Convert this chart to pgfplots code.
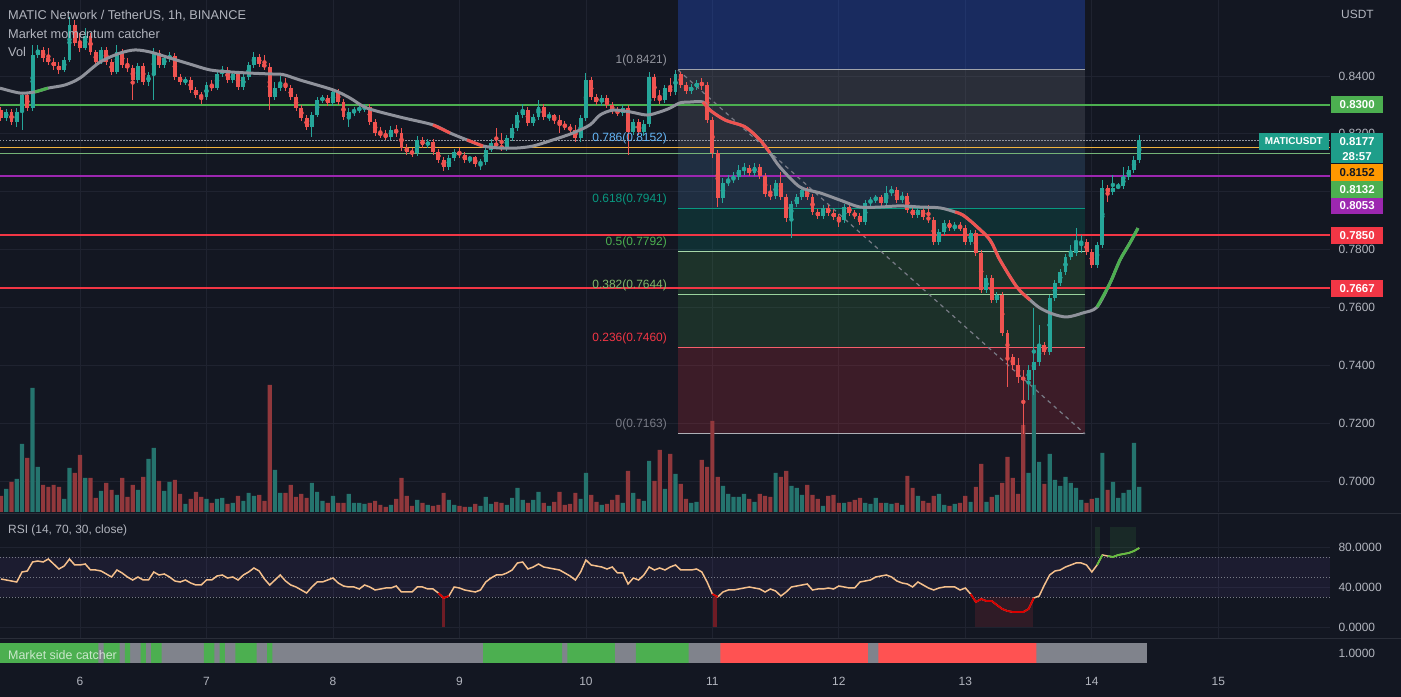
\documentclass[border=0pt]{standalone}
\usepackage{fontspec}
\setmainfont{Liberation Sans}
\usepackage{pgfplots}
\usepackage{pgfplotstable}
\pgfplotsset{compat=1.18}
\pgfkeys{/pgf/number format/assume math mode=true}
\newcommand\fs[1]{\fontsize{#1}{#1}\selectfont}

\definecolor{bg}{HTML}{131722}
\definecolor{gridc}{HTML}{1F2330}
\definecolor{sepc}{HTML}{2A2E39}
\definecolor{txt}{HTML}{B2B5BE}
\definecolor{upc}{HTML}{26A69A}
\definecolor{dnc}{HTML}{EF5350}
\definecolor{volup}{RGB}{37,116,110}
\definecolor{voldn}{RGB}{145,56,60}
\definecolor{ma}{HTML}{8F929B}
\definecolor{tvgreen}{HTML}{4CAF50}
\definecolor{tvred}{HTML}{F23645}
\definecolor{tvorange}{HTML}{FF9800}
\definecolor{lineyel}{HTML}{F2B33D}
\definecolor{tvpurple}{HTML}{9C27B0}
\definecolor{tvteal}{HTML}{089981}
\definecolor{boxteal}{HTML}{1E9E8A}
\definecolor{fibblue}{HTML}{2962FF}
\definecolor{fibgrey}{HTML}{787B86}
\definecolor{fibsky}{HTML}{64B5F6}
\definecolor{fiblg}{HTML}{81C784}
\definecolor{rsic}{RGB}{245,192,140}
\definecolor{rsiband}{HTML}{7E57C2}
\definecolor{catgrey}{RGB}{128,131,140}
\definecolor{catred}{HTML}{FF5252}

\pgfplotstableread{
h o hi lo c v r
9 0.8282 0.8293 0.8244 0.8255 16 48
10 0.8255 0.8286 0.8244 0.8276 23 47
11 0.8276 0.8286 0.8231 0.8241 30 46
12 0.8241 0.8289 0.8224 0.8276 33 45
13 0.8276 0.8345 0.8213 0.8334 68 55
14 0.8334 0.8345 0.8279 0.8289 54 56
15 0.8289 0.8507 0.8279 0.8473 124 65
16 0.8473 0.8507 0.8462 0.8490 45 66
17 0.8490 0.8500 0.8448 0.8462 27 65
18 0.8462 0.8497 0.8438 0.8448 25 68
19 0.8448 0.8462 0.8421 0.8435 27 63
20 0.8435 0.8448 0.8407 0.8421 25 58
21 0.8421 0.8466 0.8414 0.8455 13 61
22 0.8455 0.8604 0.8448 0.8576 44 68
23 0.8576 0.8594 0.8504 0.8514 39 62
24 0.8514 0.8549 0.8483 0.8497 57 62
25 0.8497 0.8566 0.8490 0.8538 34 63
26 0.8538 0.8549 0.8473 0.8483 34 57
27 0.8483 0.8490 0.8438 0.8448 14 57
28 0.8448 0.8500 0.8441 0.8490 21 56
29 0.8490 0.8500 0.8438 0.8448 29 53
30 0.8448 0.8459 0.8403 0.8414 22 50
31 0.8414 0.8507 0.8407 0.8483 17 57
32 0.8483 0.8493 0.8428 0.8438 34 54
33 0.8438 0.8462 0.8414 0.8428 15 50
34 0.8428 0.8438 0.8317 0.8386 27 47
35 0.8386 0.8445 0.8376 0.8435 22 50
36 0.8435 0.8445 0.8369 0.8379 35 47
37 0.8379 0.8414 0.8365 0.8403 53 47
38 0.8403 0.8497 0.8317 0.8479 64 55
39 0.8479 0.8490 0.8428 0.8438 31 52
40 0.8438 0.8473 0.8428 0.8462 21 53
41 0.8462 0.8483 0.8448 0.8469 30 50
42 0.8469 0.8479 0.8386 0.8397 32 46
43 0.8397 0.8407 0.8369 0.8379 18 45
44 0.8379 0.8397 0.8369 0.8386 8 47
45 0.8386 0.8397 0.8341 0.8352 13 44
46 0.8352 0.8362 0.8324 0.8334 20 42
47 0.8334 0.8345 0.8303 0.8327 15 42
48 0.8327 0.8379 0.8317 0.8369 13 47
49 0.8369 0.8386 0.8348 0.8359 9 47
50 0.8359 0.8417 0.8352 0.8407 13 51
51 0.8407 0.8435 0.8397 0.8421 14 52
52 0.8421 0.8431 0.8376 0.8386 8 49
53 0.8386 0.8417 0.8376 0.8407 9 50
54 0.8407 0.8417 0.8352 0.8362 16 47
55 0.8362 0.8407 0.8352 0.8397 11 52
56 0.8397 0.8448 0.8386 0.8438 19 55
57 0.8438 0.8483 0.8428 0.8466 16 59
58 0.8466 0.8476 0.8431 0.8441 17 56
59 0.8441 0.8473 0.8421 0.8431 11 48
60 0.8431 0.8445 0.8282 0.8327 127 42
61 0.8327 0.8379 0.8317 0.8359 42 47
62 0.8359 0.8400 0.8348 0.8372 19 52
63 0.8372 0.8393 0.8348 0.8359 19 46
64 0.8359 0.8369 0.8317 0.8327 27 42
65 0.8327 0.8338 0.8279 0.8289 15 40
66 0.8289 0.8300 0.8244 0.8255 18 37
67 0.8255 0.8265 0.8213 0.8224 14 34
68 0.8224 0.8276 0.8189 0.8265 29 40
69 0.8265 0.8327 0.8258 0.8317 20 45
70 0.8317 0.8334 0.8307 0.8324 11 45
71 0.8324 0.8334 0.8296 0.8307 9 47
72 0.8307 0.8355 0.8296 0.8345 16 49
73 0.8345 0.8355 0.8300 0.8310 9 44
74 0.8310 0.8320 0.8248 0.8258 9 41
75 0.8258 0.8289 0.8224 0.8276 18 40
76 0.8276 0.8293 0.8262 0.8282 9 40
77 0.8282 0.8300 0.8272 0.8289 9 38
78 0.8289 0.8303 0.8276 0.8293 8 42
79 0.8293 0.8303 0.8231 0.8241 9 40
80 0.8241 0.8251 0.8193 0.8203 11 37
81 0.8203 0.8224 0.8186 0.8196 7 38
82 0.8196 0.8213 0.8179 0.8189 5 39
83 0.8189 0.8227 0.8179 0.8213 7 39
84 0.8213 0.8231 0.8189 0.8203 13 41
85 0.8203 0.8220 0.8141 0.8151 34 35
86 0.8151 0.8165 0.8127 0.8137 16 35
87 0.8137 0.8151 0.8120 0.8134 6 35
88 0.8134 0.8193 0.8123 0.8179 12 40
89 0.8179 0.8189 0.8151 0.8161 9 40
90 0.8161 0.8182 0.8151 0.8172 7 38
91 0.8172 0.8182 0.8127 0.8137 6 38
92 0.8137 0.8148 0.8099 0.8110 7 34
93 0.8110 0.8120 0.8072 0.8085 19 29
94 0.8085 0.8127 0.8075 0.8117 12 31
95 0.8117 0.8148 0.8106 0.8137 7 40
96 0.8137 0.8151 0.8117 0.8127 6 39
97 0.8127 0.8137 0.8099 0.8110 5 37
98 0.8110 0.8123 0.8099 0.8120 5 36
99 0.8120 0.8123 0.8085 0.8096 8 35
100 0.8096 0.8113 0.8075 0.8103 6 37
101 0.8103 0.8155 0.8092 0.8144 15 45
102 0.8144 0.8182 0.8137 0.8168 8 49
103 0.8168 0.8220 0.8148 0.8158 10 52
104 0.8158 0.8203 0.8141 0.8151 9 52
105 0.8151 0.8196 0.8141 0.8186 7 54
106 0.8186 0.8234 0.8175 0.8220 14 57
107 0.8220 0.8276 0.8210 0.8265 24 64
108 0.8265 0.8303 0.8255 0.8282 12 65
109 0.8282 0.8293 0.8227 0.8237 9 58
110 0.8237 0.8269 0.8227 0.8258 12 60
111 0.8258 0.8317 0.8248 0.8293 20 63
112 0.8293 0.8303 0.8248 0.8258 9 60
113 0.8258 0.8276 0.8244 0.8265 6 59
114 0.8265 0.8269 0.8234 0.8248 10 58
115 0.8248 0.8265 0.8203 0.8231 20 57
116 0.8231 0.8244 0.8213 0.8224 7 54
117 0.8224 0.8234 0.8203 0.8213 8 51
118 0.8213 0.8231 0.8172 0.8186 19 47
119 0.8186 0.8265 0.8172 0.8255 13 55
120 0.8255 0.8410 0.8244 0.8386 39 67
121 0.8386 0.8397 0.8317 0.8327 17 62
122 0.8327 0.8338 0.8300 0.8310 10 61
123 0.8310 0.8334 0.8296 0.8324 7 60
124 0.8324 0.8334 0.8289 0.8300 8 58
125 0.8300 0.8310 0.8269 0.8279 12 60
126 0.8279 0.8293 0.8262 0.8272 17 54
127 0.8272 0.8300 0.8262 0.8289 9 54
128 0.8289 0.8300 0.8127 0.8206 41 43
129 0.8206 0.8251 0.8196 0.8241 19 49
130 0.8241 0.8251 0.8196 0.8206 13 47
131 0.8206 0.8248 0.8193 0.8234 11 52
132 0.8234 0.8414 0.8224 0.8397 51 60
133 0.8397 0.8407 0.8314 0.8324 31 57
134 0.8324 0.8352 0.8303 0.8317 62 59
135 0.8317 0.8369 0.8307 0.8359 23 57
136 0.8359 0.8393 0.8331 0.8345 58 60
137 0.8345 0.8421 0.8334 0.8407 38 62
138 0.8407 0.8414 0.8359 0.8369 28 57
139 0.8369 0.8379 0.8338 0.8348 13 57
140 0.8348 0.8372 0.8338 0.8362 9 57
141 0.8362 0.8386 0.8352 0.8376 10 58
142 0.8376 0.8393 0.8352 0.8369 52 55
143 0.8369 0.8379 0.8237 0.8248 45 45
144 0.8248 0.8258 0.8117 0.8134 91 33
145 0.8134 0.8144 0.7947 0.7978 35 30
146 0.7978 0.8047 0.7961 0.8030 26 35
147 0.8030 0.8058 0.8020 0.8040 18 37
148 0.8040 0.8068 0.8030 0.8051 15 37
149 0.8051 0.8092 0.8040 0.8075 15 38
150 0.8075 0.8099 0.8058 0.8082 18 39
151 0.8082 0.8092 0.8054 0.8065 13 40
152 0.8065 0.8099 0.8054 0.8085 10 39
153 0.8085 0.8096 0.8044 0.8054 18 38
154 0.8054 0.8065 0.7982 0.7992 16 35
155 0.7992 0.8023 0.7971 0.7985 15 38
156 0.7985 0.8040 0.7975 0.8030 39 36
157 0.8030 0.8068 0.7971 0.7982 35 31
158 0.7982 0.7992 0.7895 0.7909 41 35
159 0.7909 0.7968 0.7840 0.7957 26 40
160 0.7957 0.7992 0.7947 0.7982 24 41
161 0.7982 0.8016 0.7971 0.8006 17 42
162 0.8006 0.8016 0.7971 0.7982 27 43
163 0.7982 0.7992 0.7919 0.7930 17 37
164 0.7930 0.7940 0.7906 0.7916 13 38
165 0.7916 0.7954 0.7906 0.7944 6 38
166 0.7944 0.7954 0.7916 0.7926 16 39
167 0.7926 0.7937 0.7902 0.7913 17 38
168 0.7913 0.7923 0.7878 0.7902 9 41
169 0.7902 0.7957 0.7892 0.7947 9 40
170 0.7947 0.7957 0.7916 0.7926 10 39
171 0.7926 0.7937 0.7906 0.7916 12 39
172 0.7916 0.7926 0.7885 0.7895 14 45
173 0.7895 0.7971 0.7885 0.7961 9 46
174 0.7961 0.7982 0.7951 0.7971 8 47
175 0.7971 0.7989 0.7961 0.7982 14 50
176 0.7982 0.7989 0.7951 0.7961 9 51
177 0.7961 0.8020 0.7951 0.7996 9 52
178 0.7996 0.8020 0.7985 0.8006 8 50
179 0.8006 0.8016 0.7961 0.7971 9 46
180 0.7971 0.7999 0.7961 0.7985 7 44
181 0.7985 0.7996 0.7926 0.7937 36 43
182 0.7937 0.7947 0.7909 0.7919 24 40
183 0.7919 0.7947 0.7909 0.7937 16 45
184 0.7937 0.7947 0.7902 0.7913 11 42
185 0.7913 0.7954 0.7892 0.7902 9 39
186 0.7902 0.7913 0.7816 0.7826 16 37
187 0.7826 0.7871 0.7816 0.7861 18 39
188 0.7861 0.7902 0.7850 0.7892 7 40
189 0.7892 0.7902 0.7864 0.7874 6 40
190 0.7874 0.7895 0.7864 0.7881 8 40
191 0.7881 0.7895 0.7864 0.7874 9 37
192 0.7874 0.7885 0.7816 0.7826 16 39
193 0.7826 0.7868 0.7816 0.7857 10 33
194 0.7857 0.7868 0.7778 0.7788 25 25
195 0.7788 0.7798 0.7650 0.7660 48 28
196 0.7660 0.7712 0.7650 0.7702 10 26
197 0.7702 0.7712 0.7615 0.7626 15 26
198 0.7626 0.7653 0.7615 0.7643 17 22
199 0.7643 0.7653 0.7501 0.7511 29 18
200 0.7511 0.7522 0.7325 0.7429 55 16
201 0.7429 0.7439 0.7384 0.7401 34 15
202 0.7401 0.7425 0.7339 0.7359 18 15
203 0.7359 0.7384 0.7163 0.7349 87 15
204 0.7349 0.7401 0.7280 0.7384 39 18
205 0.7384 0.7598 0.7297 0.7411 127 29
206 0.7411 0.7539 0.7397 0.7470 50 31
207 0.7470 0.7480 0.7435 0.7446 28 42
208 0.7446 0.7643 0.7435 0.7633 58 52
209 0.7633 0.7695 0.7622 0.7684 32 56
210 0.7684 0.7733 0.7674 0.7722 26 57
211 0.7722 0.7785 0.7712 0.7774 35 60
212 0.7774 0.7816 0.7764 0.7788 29 62
213 0.7788 0.7874 0.7778 0.7823 24 64
214 0.7823 0.7850 0.7788 0.7826 12 64
215 0.7826 0.7836 0.7781 0.7791 9 62
216 0.7791 0.7802 0.7736 0.7747 13 55
217 0.7747 0.7826 0.7736 0.7816 14 62
218 0.7816 0.8040 0.7805 0.8013 59 72
219 0.8013 0.8023 0.7964 0.7999 22 71
220 0.7999 0.8058 0.7989 0.8013 30 70
221 0.8013 0.8030 0.8009 0.8020 14 72
222 0.8020 0.8085 0.8009 0.8051 19 73
223 0.8051 0.8089 0.8040 0.8075 22 74
224 0.8075 0.8123 0.8065 0.8110 69 76
225 0.8110 0.8196 0.8099 0.8177 25 79
}\candles

\pgfplotstableread{
h p
8.82 0.8358
12.62 0.8341
15.46 0.8345
17.93 0.8358
21.15 0.8369
24.0 0.8393
27.80 0.8448
31.59 0.8479
34.44 0.8490
37.28 0.8483
41.08 0.8462
44.87 0.8441
48.67 0.8421
52.46 0.8414
56.26 0.8410
60.05 0.8407
62.52 0.8405
65.75 0.8386
72.0 0.8352
75.23 0.8324
78.46 0.8289
84.72 0.8258
90.98 0.8231
94.21 0.8203
97.43 0.8179
100.47 0.8158
103.70 0.8151
106.92 0.8151
109.96 0.8158
113.75 0.8179
117.55 0.8203
120.77 0.8231
122.67 0.8265
125.14 0.8282
128.36 0.8276
131.59 0.8265
134.06 0.8276
135.95 0.8289
137.85 0.8307
139.75 0.8310
142.22 0.8310
143.55 0.8282
146.39 0.8248
150.19 0.8224
153.03 0.8179
154.93 0.8134
156.83 0.8085
160.63 0.8016
164.42 0.7996
168.22 0.7971
172.01 0.7947
175.81 0.7947
179.60 0.7951
183.40 0.7947
187.19 0.7944
190.04 0.7930
191.55 0.7919
193.83 0.7885
196.68 0.7833
198.57 0.7764
201.80 0.7670
204.27 0.7626
206.16 0.7598
208.63 0.7577
211.29 0.7567
214.33 0.7581
216.98 0.7601
219.45 0.7684
221.35 0.7764
223.24 0.7823
224.76 0.7874
}\matab

\pgfplotsset{
  pane/.style={scale only axis, anchor=south west, width=1330bp,
    xmin=8.82, xmax=261.2, axis line style={draw=none},
    tick style={draw=none}, major tick length=0pt},
  pricey/.style={ymin=0.68928, ymax=0.86627},
  candle/.style n args={3}{color=#1, only marks, mark=none,
    restrict expr to domain=#2,
    error bars/.cd, y dir=both, y explicit, error mark=none,
    error bar style={color=#1, line width=#3, line cap=butt}},
}
\tikzset{
  boxlbl/.style={anchor=west, xshift=1bp, minimum width=52bp, inner sep=0pt,
    font=\fs{11.5}\bfseries},
  fibl/.style={anchor=base east, yshift=6bp, inner sep=0pt, font=\fs{12}},
}

\begin{document}
\begin{tikzpicture}
\fill[bg] (0bp,0bp) rectangle (1401bp,697bp);

% ---------- main pane: grid, fib zones, levels ----------
\begin{axis}[pane, pricey, at={(0bp,185bp)}, height=512bp,
  xtick={24,48,...,240}, xticklabels={},
  ytick={0.70,0.72,0.74,0.76,0.78,0.80,0.82,0.84},
  yticklabel pos=right,
  yticklabel style={font=\fs{12}, color=txt, xshift=5bp,
    /pgf/number format/.cd, fixed, fixed zerofill, precision=4},
  grid=major, major grid style={gridc, line width=0.8bp},
  clip mode=individual]
  \fill[fibblue, fill opacity=0.28] (axis cs:137.47,0.8421) rectangle (axis cs:214.7,0.8663);
  \fill[fibgrey, fill opacity=0.23] (axis cs:137.47,0.8152) rectangle (axis cs:214.7,0.8421);
  \fill[fibsky, fill opacity=0.15] (axis cs:137.47,0.7941) rectangle (axis cs:214.7,0.8152);
  \fill[tvteal, fill opacity=0.19] (axis cs:137.47,0.7792) rectangle (axis cs:214.7,0.7941);
  \fill[tvgreen, fill opacity=0.19] (axis cs:137.47,0.7644) rectangle (axis cs:214.7,0.7792);
  \fill[tvgreen, fill opacity=0.17] (axis cs:137.47,0.7460) rectangle (axis cs:214.7,0.7644);
  \fill[tvred, fill opacity=0.19] (axis cs:137.47,0.7163) rectangle (axis cs:214.7,0.7460);
  \addplot[fibgrey!70!white, line width=1bp] coordinates {(137.47,0.8421) (214.7,0.8421)};
  \addplot[fibsky, line width=1bp] coordinates {(137.47,0.8152) (214.7,0.8152)};
  \addplot[tvteal, line width=1bp] coordinates {(137.47,0.7941) (214.7,0.7941)};
  \addplot[fiblg!70!white, line width=1bp] coordinates {(137.47,0.7792) (214.7,0.7792)};
  \addplot[fiblg!80!white, line width=1bp] coordinates {(137.47,0.7644) (214.7,0.7644)};
  \addplot[tvred!80!white, line width=1bp] coordinates {(137.47,0.7460) (214.7,0.7460)};
  \addplot[fibgrey!60!white, line width=1bp] coordinates {(137.47,0.7163) (214.7,0.7163)};
  \addplot[fibgrey, line width=1.2bp, dash pattern=on 4bp off 4bp] coordinates {(137.47,0.8421) (214.7,0.7163)};
  \addplot[fibgrey!80!white, line width=1bp, dash pattern=on 1.5bp off 1.5bp] coordinates {(8.82,0.8177) (261.2,0.8177)};
  \addplot[tvgreen, line width=2bp] coordinates {(8.82,0.8300) (261.2,0.8300)};
  \addplot[lineyel, line width=1.5bp] coordinates {(8.82,0.8152) (261.2,0.8152)};
  \addplot[fiblg!90!black, line width=1.6bp] coordinates {(8.82,0.8132) (261.2,0.8132)};
  \addplot[tvpurple, line width=2bp] coordinates {(8.82,0.8053) (261.2,0.8053)};
  \addplot[tvred, line width=2bp] coordinates {(8.82,0.7850) (261.2,0.7850)};
  \addplot[tvred, line width=2bp] coordinates {(8.82,0.7667) (261.2,0.7667)};
\end{axis}

% ---------- volume ----------
\begin{axis}[pane, at={(0bp,185bp)}, height=512bp, ymin=0, ymax=512, hide axis]
  \addplot[ybar, bar width=4.2bp, bar shift=0pt, fill=volup, draw=none,
    restrict expr to domain={\thisrow{c}-\thisrow{o}}{0:1}]
    table[x=h, y=v] {\candles};
  \addplot[ybar, bar width=4.2bp, bar shift=0pt, fill=voldn, draw=none,
    restrict expr to domain={\thisrow{o}-\thisrow{c}}{0.00001:1}]
    table[x=h, y=v] {\candles};
\end{axis}

% ---------- candles, MA, labels ----------
\begin{axis}[pane, pricey, at={(0bp,185bp)}, height=512bp, hide axis, clip mode=individual]
  \addplot[candle={upc}{{\thisrow{c}-\thisrow{o}}{0:1}}{1bp}]
    table[x=h, y expr={(\thisrow{hi}+\thisrow{lo})/2},
      y error expr={(\thisrow{hi}-\thisrow{lo})/2}] {\candles};
  \addplot[candle={dnc}{{\thisrow{o}-\thisrow{c}}{0.00001:1}}{1bp}]
    table[x=h, y expr={(\thisrow{hi}+\thisrow{lo})/2},
      y error expr={(\thisrow{hi}-\thisrow{lo})/2}] {\candles};
  \addplot[candle={upc}{{\thisrow{c}-\thisrow{o}}{0:1}}{3.9bp}]
    table[x=h, y expr={(\thisrow{o}+\thisrow{c})/2},
      y error expr={max(abs(\thisrow{c}-\thisrow{o})/2,0.00012)}] {\candles};
  \addplot[candle={dnc}{{\thisrow{o}-\thisrow{c}}{0.00001:1}}{3.9bp}]
    table[x=h, y expr={(\thisrow{o}+\thisrow{c})/2},
      y error expr={max(abs(\thisrow{c}-\thisrow{o})/2,0.00012)}] {\candles};
  \addplot[ma, line width=3bp, smooth, tension=0.5] table[x=h, y=p] {\matab};
  \addplot[tvgreen, line width=3bp, smooth, restrict x to domain=15.4:18] table[x=h, y=p] {\matab};
  \addplot[dnc, line width=3bp, smooth, restrict x to domain=90.9:94.3] table[x=h, y=p] {\matab};
  \addplot[dnc, line width=3bp, smooth, restrict x to domain=97.4:100.5] table[x=h, y=p] {\matab};
  \addplot[dnc, line width=3bp, smooth, tension=0.5, restrict x to domain=142.2:154.95] table[x=h, y=p] {\matab};
  \addplot[dnc, line width=3bp, smooth, tension=0.5, restrict x to domain=190:204.3] table[x=h, y=p] {\matab};
  \addplot[tvgreen, line width=3bp, smooth, tension=0.5, restrict x to domain=216.9:224.8] table[x=h, y=p] {\matab};
  \node[fibl, color=fibgrey!80!white] at (axis cs:135.4,0.8421) {1(0.8421)};
  \node[fibl, color=fibsky] at (axis cs:135.4,0.8152) {0.786(0.8152)};
  \node[fibl, color=tvteal] at (axis cs:135.4,0.7941) {0.618(0.7941)};
  \node[fibl, color=tvgreen] at (axis cs:135.4,0.7792) {0.5(0.7792)};
  \node[fibl, color=fiblg!80!olive] at (axis cs:135.4,0.7644) {0.382(0.7644)};
  \node[fibl, color=tvred] at (axis cs:135.4,0.7460) {0.236(0.7460)};
  \node[fibl, color=fibgrey] at (axis cs:135.4,0.7163) {0(0.7163)};
  \node[anchor=west, xshift=11bp, inner sep=0pt, font=\fs{12}, color=txt] at (axis cs:261.2,0.8614) {USDT};
  \node[boxlbl, fill=tvgreen, text=white, minimum height=17bp] at (axis cs:261.2,0.8300) {0.8300};
  \node[anchor=east, xshift=-1bp, fill=boxteal, text=white, minimum width=70bp, minimum height=17bp, inner sep=0pt, font=\fs{10}\bfseries] at (axis cs:261.2,0.8175) {MATICUSDT};
  \node[anchor=north west, xshift=1bp, fill=boxteal, minimum width=52bp, minimum height=30bp, inner sep=0pt] at (axis cs:261.2,0.8203) {};
  \node[anchor=center, xshift=27bp, inner sep=0pt, font=\fs{11.5}\bfseries, text=white] at (axis cs:261.2,0.8172) {0.8177};
  \node[anchor=center, xshift=27bp, inner sep=0pt, font=\fs{11.5}\bfseries, text=white] at (axis cs:261.2,0.8123) {28:57};
  \node[boxlbl, anchor=north west, fill=tvorange, text=bg, minimum height=17bp] at (axis cs:261.2,0.8097) {0.8152};
  \node[boxlbl, anchor=north west, fill=tvgreen, text=white, minimum height=16.5bp] at (axis cs:261.2,0.8037) {0.8132};
  \node[boxlbl, anchor=north west, fill=tvpurple, text=white, minimum height=16.5bp] at (axis cs:261.2,0.7980) {0.8053};
  \node[boxlbl, fill=tvred, text=white, minimum height=17bp] at (axis cs:261.2,0.7850) {0.7850};
  \node[boxlbl, fill=tvred, text=white, minimum height=17bp] at (axis cs:261.2,0.7665) {0.7667};
\end{axis}

% ---------- RSI pane ----------
\begin{axis}[pane, at={(0bp,59bp)}, height=124bp, ymin=-11, ymax=113,
  xtick={24,48,...,240}, xticklabels={},
  ytick={0,40,80}, yticklabel pos=right,
  yticklabel style={font=\fs{12}, color=txt, xshift=5bp,
    /pgf/number format/.cd, fixed, fixed zerofill, precision=4},
  grid=major, major grid style={gridc, line width=0.8bp},
  clip mode=individual]
  \fill[rsiband, fill opacity=0.09] (axis cs:8.82,30) rectangle (axis cs:261.2,70);
  \addplot[fibgrey, line width=0.8bp, dash pattern=on 1bp off 2bp] coordinates {(8.82,70) (261.2,70)};
  \addplot[fibgrey, line width=0.8bp, dash pattern=on 1bp off 2bp] coordinates {(8.82,50) (261.2,50)};
  \addplot[fibgrey, line width=0.8bp, dash pattern=on 1bp off 2bp] coordinates {(8.82,30) (261.2,30)};
  \fill[tvred!55!black, fill opacity=0.8] (axis cs:92.6,0) rectangle (axis cs:93.2,30);
  \fill[tvred!55!black, fill opacity=0.8] (axis cs:144.1,0) rectangle (axis cs:144.9,30);
  \fill[tvred, fill opacity=0.13] (axis cs:193.8,0) rectangle (axis cs:204.8,30);
  \fill[tvgreen, fill opacity=0.15] (axis cs:216.6,70) rectangle (axis cs:217.6,100);
  \fill[tvgreen, fill opacity=0.12] (axis cs:219.5,70) rectangle (axis cs:224.4,100);
  \addplot[rsic, line width=1.5bp] table[x=h, y=r] {\candles};
  \addplot[red!85!black, line width=1.8bp, restrict x to domain=92:94] table[x=h, y=r] {\candles};
  \addplot[red!85!black, line width=1.8bp, restrict x to domain=144:145] table[x=h, y=r] {\candles};
  \addplot[red!85!black, line width=1.8bp, restrict x to domain=193:205] table[x=h, y=r] {\candles};
  \addplot[tvgreen!80!lime, line width=1.8bp, restrict x to domain=217:218] table[x=h, y=r] {\candles};
  \addplot[tvgreen!80!lime, line width=1.8bp, restrict x to domain=219:225] table[x=h, y=r] {\candles};
\end{axis}

% ---------- Market side catcher ----------
\begin{axis}[pane, at={(0bp,34bp)}, height=20bp, ymin=0, ymax=1,
  xtick={24,48,...,240}, xticklabels={6,7,8,9,10,11,12,13,14,15},
  xticklabel style={font=\fs{12}, color=txt, yshift=-11bp},
  ytick={0.5}, yticklabels={1.0000}, yticklabel pos=right,
  yticklabel style={font=\fs{12}, color=txt, xshift=5bp}]
  \addplot[ybar interval, fill=catgrey, draw=none] coordinates {(8.5,1) (226.5,1)};
  \addplot[ybar interval, fill=tvgreen, draw=none] coordinates {
    (8.5,1) (27.5,0) (28.5,1) (31.5,0) (32.5,1) (33.5,0) (35.5,1) (36.5,0)
    (37.5,1) (39.5,0) (47.5,1) (49.5,0) (50.5,1) (51.5,0) (53.5,1) (57.5,0)
    (59.5,1) (60.5,0) (100.5,1) (115.5,0) (116.5,1) (125.5,0) (129.5,1)
    (139.5,0) (226.5,0)};
  \addplot[ybar interval, fill=catred, draw=none] coordinates {
    (145.5,1) (173.5,0) (175.5,1) (205.5,0) (226.5,0)};
\end{axis}

\draw[sepc, line width=1bp] (0bp,183.5bp) -- (1401bp,183.5bp);
\draw[sepc, line width=1bp] (0bp,58.5bp) -- (1401bp,58.5bp);

\node[anchor=west, inner sep=0pt, font=\fs{12.8}, color=txt] at (8bp,681bp) {MATIC Network / TetherUS, 1h, BINANCE};
\node[anchor=west, inner sep=0pt, font=\fs{12.8}, color=txt] at (8bp,663bp) {Market momentum catcher};
\node[anchor=west, inner sep=0pt, font=\fs{12.8}, color=txt] at (8bp,645bp) {Vol};
\node[anchor=west, inner sep=0pt, font=\fs{12}, color=txt] at (8bp,167bp) {RSI (14, 70, 30, close)};
\node[anchor=west, inner sep=0pt, font=\fs{12.5}, color=white, opacity=0.7] at (8bp,42bp) {Market side catcher};

\pgfresetboundingbox
\path (0bp,0bp) rectangle (1401bp,697bp);
\end{tikzpicture}
\end{document}
